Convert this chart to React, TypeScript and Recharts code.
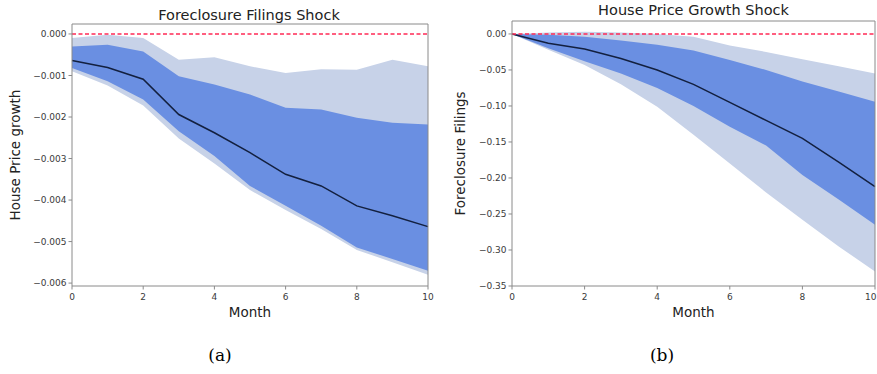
import React from 'react';
import { ComposedChart, Area, Line, XAxis, YAxis, ReferenceLine } from 'recharts';

const months = [0, 1, 2, 3, 4, 5, 6, 7, 8, 9, 10];
const xTicks = [0, 2, 4, 6, 8, 10];

// (a) Foreclosure Filings Shock -> House Price growth
const hpMedian = [-0.00064, -0.00081, -0.00109, -0.00194, -0.00238, -0.00286, -0.00338, -0.00366, -0.00414, -0.00438, -0.00464];
const hpInnerHi = [-0.0003, -0.00026, -0.00042, -0.00102, -0.00122, -0.00146, -0.00178, -0.00182, -0.00202, -0.00214, -0.00218];
const hpInnerLo = [-0.00082, -0.00114, -0.00158, -0.00234, -0.00294, -0.00366, -0.00414, -0.00462, -0.00514, -0.00542, -0.0057];
const hpOuterHi = [-0.0001, -0.00002, -0.0001, -0.00062, -0.00056, -0.00078, -0.00094, -0.00085, -0.00086, -0.00062, -0.00078];
const hpOuterLo = [-0.0009, -0.00124, -0.00172, -0.00252, -0.00312, -0.00376, -0.00424, -0.0047, -0.0052, -0.0055, -0.0058];
const hpYTicks = [0, -0.001, -0.002, -0.003, -0.004, -0.005, -0.006];
const hpYDomain = [-0.00607, 0.00024];

// (b) House Price Growth Shock -> Foreclosure Filings
const ffMedian = [0, -0.013, -0.021, -0.034, -0.05, -0.07, -0.095, -0.12, -0.145, -0.178, -0.212];
const ffInnerHi = [0, -0.001, -0.004, -0.009, -0.015, -0.023, -0.036, -0.05, -0.066, -0.08, -0.094];
const ffInnerLo = [0, -0.02, -0.038, -0.055, -0.075, -0.1, -0.129, -0.155, -0.196, -0.23, -0.265];
const ffOuterHi = [0, 0.002, 0.003, 0.002, 0, -0.004, -0.016, -0.025, -0.035, -0.045, -0.055];
const ffOuterLo = [0, -0.022, -0.043, -0.07, -0.101, -0.14, -0.18, -0.22, -0.258, -0.295, -0.33];
const ffYTicks = [0, -0.05, -0.1, -0.15, -0.2, -0.25, -0.3, -0.35];
const ffYDomain = [-0.35, 0.018];

const build = (med: number[], iHi: number[], iLo: number[], oHi: number[], oLo: number[]) =>
  months.map((m, i) => ({ m, med: med[i], inner: [iLo[i], iHi[i]], outer: [oLo[i], oHi[i]] }));

const hpData = build(hpMedian, hpInnerHi, hpInnerLo, hpOuterHi, hpOuterLo);
const ffData = build(ffMedian, ffInnerHi, ffInnerLo, ffOuterHi, ffOuterLo);

const FONT = 'DejaVu Sans';
const AXIS = '#8a8a8a';
const TICK_FILL = '#3a3a3a';

const fmt = (digits: number) => (v: number) =>
  v === 0 ? (0).toFixed(digits) : (v < 0 ? '\u2212' : '') + Math.abs(v).toFixed(digits);

const makeXTick = (chartWidth: number) => (props: any) => {
  const { x, y, payload } = props;
  const label = String(payload.value);
  const half = label.length * 2.9;
  const anchor = x + half > chartWidth ? 'end' : 'middle';
  const tx = anchor === 'end' ? chartWidth - 0.5 : x;
  return (
    <text x={tx} y={y + 8} textAnchor={anchor} fontFamily={FONT} fontSize={9} fill={TICK_FILL}>
      {label}
    </text>
  );
};

type PanelProps = {
  data: any[];
  width: number;
  top: number;
  right: number;
  yTicks: number[];
  yDomain: number[];
  digits: number;
  yLabel: string;
  yLabelDx: number;
};

const Panel = ({ data, width, top, right, yTicks, yDomain, digits, yLabel, yLabelDx }: PanelProps) => (
  <ComposedChart width={width} height={330} data={data} margin={{ top, right, bottom: 0, left: 0 }}>
    <XAxis
      dataKey="m"
      type="number"
      domain={[0, 10]}
      ticks={xTicks}
      tick={makeXTick(width)}
      tickSize={3.5}
      tickMargin={2}
      height={44}
      stroke={AXIS}
      axisLine={{ stroke: AXIS }}
      tickLine={{ stroke: AXIS }}
      interval={0}
      label={{ value: 'Month', position: 'insideBottom', offset: 13, fontSize: 13.5, fontFamily: FONT, fill: '#222' }}
    />
    <YAxis
      type="number"
      domain={yDomain}
      ticks={yTicks}
      tickFormatter={fmt(digits)}
      tick={{ fontSize: 9, fill: TICK_FILL, fontFamily: FONT }}
      tickSize={3.5}
      tickMargin={2}
      width={72}
      stroke={AXIS}
      axisLine={{ stroke: AXIS }}
      tickLine={{ stroke: AXIS }}
      interval={0}
      allowDataOverflow
      label={{ value: yLabel, angle: -90, position: 'center', dx: yLabelDx, fontSize: 13.5, fontFamily: FONT, fill: '#222' }}
    />
    <Area dataKey="outer" type="linear" stroke="none" fill="#c7d2e8" fillOpacity={1} isAnimationActive={false} />
    <Area dataKey="inner" type="linear" stroke="none" fill="#6a8fe2" fillOpacity={1} isAnimationActive={false} />
    <Line dataKey="med" type="linear" stroke="#13203f" strokeWidth={1.5} dot={false} isAnimationActive={false} />
    <ReferenceLine y={0} stroke="#ff2a55" strokeWidth={1.6} strokeDasharray="4 2.5" />
    <ReferenceLine y={yDomain[1]} stroke={AXIS} strokeWidth={1} />
    <ReferenceLine x={10} stroke={AXIS} strokeWidth={1} />
  </ComposedChart>
);

export default function App() {
  return (
    <div style={{ position: 'absolute', left: 0, top: 0, width: 877, height: 374, background: '#fff' }}>
      <div style={{ position: 'absolute', left: 0, top: 0 }}>
        <Panel data={hpData} width={440} top={24} right={12} yTicks={hpYTicks} yDomain={hpYDomain} digits={3} yLabel="House Price growth" yLabelDx={-21} />
      </div>
      <div style={{ position: 'absolute', left: 440, top: 0 }}>
        <Panel data={ffData} width={437} top={21} right={2} yTicks={ffYTicks} yDomain={ffYDomain} digits={2} yLabel="Foreclosure Filings" yLabelDx={-16} />
      </div>
      <svg width={877} height={374} style={{ position: 'absolute', left: 0, top: 0, pointerEvents: 'none' }}>
        <text x={249} y={20} textAnchor="middle" fontFamily={FONT} fontSize={14.5} fill="#222">Foreclosure Filings Shock</text>
        <text x={693.5} y={15} textAnchor="middle" fontFamily={FONT} fontSize={14.5} fill="#222">House Price Growth Shock</text>
        <text x={220} y={361} textAnchor="middle" fontFamily="DejaVu Serif" fontSize={17} fill="#000">(a)</text>
        <text x={662} y={361} textAnchor="middle" fontFamily="DejaVu Serif" fontSize={17} fill="#000">(b)</text>
      </svg>
    </div>
  );
}
